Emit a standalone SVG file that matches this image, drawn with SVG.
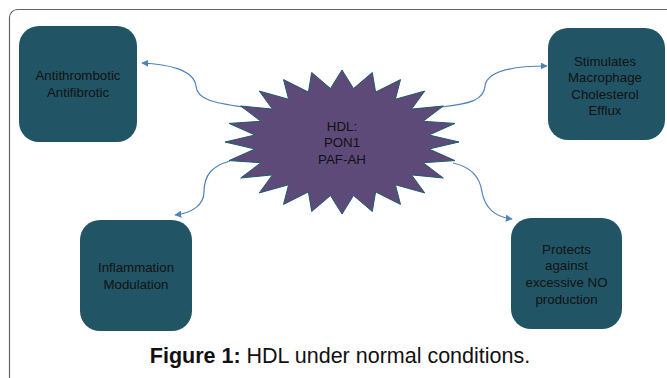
<svg xmlns="http://www.w3.org/2000/svg" width="667" height="378" viewBox="0 0 667 378">
<defs>
<style>
.box{fill:#215566;}
.lbl{font-family:"Liberation Sans",Arial,sans-serif;font-size:13.3px;fill:#111;text-anchor:middle;}
.con{fill:none;stroke:#4f81bd;stroke-width:1.2;marker-end:url(#arr);}
</style>
<marker id="arr" viewBox="0 0 10 10" refX="9" refY="5" markerWidth="7" markerHeight="7" markerUnits="userSpaceOnUse" orient="auto">
<path d="M0,0 L10,5 L0,10 z" fill="#4f81bd"/>
</marker>
</defs>
<rect x="0" y="0" width="667" height="378" fill="#ffffff"/>
<rect id="frame" x="9.5" y="9.5" width="680" height="400" rx="8" fill="none" stroke="#666666" stroke-width="1.2"/>
<g id="connectors">
<path class="con" d="M243,107 C215,103 197,100 196,86 C194,70 168,64 142,63"/>
<path class="con" d="M441,107 C470,104 484,100 485,86 C487,70 515,66 547,66"/>
<path class="con" d="M230,161 C212,166 204,175 204,192 C204,205 192,213 175,215"/>
<path class="con" d="M453,163 C472,167 480,177 482,192 C485,208 495,217 512,219"/>
</g>
<g id="hdl">
<polygon fill="#5d4a78" stroke="#1f5c6b" stroke-width="1" points="342,70 353.5,88.5 372.3,72.5 375.6,92.1 400.5,79.6 395.4,99.2 424.7,91.1 411.6,109.1 443.3,106 423.1,121.3 455,123.4 429,135 459,142 429,149 455,160.6 423.1,162.7 443.3,178 411.6,174.9 424.7,192.9 395.4,184.8 400.5,204.4 375.6,191.9 372.3,211.5 353.5,195.5 342,214 330.5,195.5 311.7,211.5 308.4,191.9 283.5,204.4 288.6,184.8 259.3,192.9 272.4,174.9 240.7,178 260.9,162.7 229,160.6 255,149 225,142 255,135 229,123.4 260.9,121.3 240.7,106 272.4,109.1 259.3,91.1 288.6,99.2 283.5,79.6 308.4,92.1 311.7,72.5 330.5,88.5"/>
<text class="lbl" x="342" y="131">HDL:</text>
<text class="lbl" x="342" y="147">PON1</text>
<text class="lbl" x="342" y="163.5">PAF-AH</text>
</g>
<g id="antithrombotic">
<rect class="box" x="19" y="26" width="118" height="116" rx="20"/>
<text class="lbl" x="78" y="80">Antithrombotic</text>
<text class="lbl" x="78" y="97">Antifibrotic</text>
</g>
<g id="macrophage">
<rect class="box" x="548" y="28" width="117" height="112" rx="20"/>
<text class="lbl" x="605" y="66">Stimulates</text>
<text class="lbl" x="605" y="82">Macrophage</text>
<text class="lbl" x="605" y="98.5">Cholesterol</text>
<text class="lbl" x="605" y="115">Efflux</text>
</g>
<g id="inflammation">
<rect class="box" x="80" y="220" width="112" height="111" rx="20"/>
<text class="lbl" x="136" y="272">Inflammation</text>
<text class="lbl" x="136" y="289">Modulation</text>
</g>
<g id="protects">
<rect class="box" x="511" y="218" width="111" height="111" rx="20"/>
<text class="lbl" x="566.5" y="253.5">Protects</text>
<text class="lbl" x="566.5" y="270">against</text>
<text class="lbl" x="566.5" y="286.5">excessive NO</text>
<text class="lbl" x="566.5" y="303.5">production</text>
</g>
<text x="340" y="363" font-family="Liberation Sans, Arial, sans-serif" font-size="21.5" fill="#111" text-anchor="middle"><tspan font-weight="bold">Figure 1:</tspan> HDL under normal conditions.</text>
</svg>
